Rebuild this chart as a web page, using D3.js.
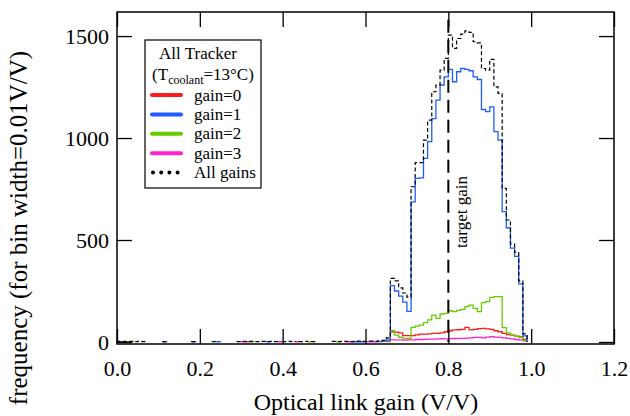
<!DOCTYPE html>
<html>
<head>
<meta charset="utf-8">
<script src="https://cdn.jsdelivr.net/npm/d3@7"></script>
<style>
  body { margin: 0; background: #fff; }
  svg { display: block; font-family: "Liberation Serif", "Times New Roman", serif; }
</style>
</head>
<body>
<svg id="chart" width="630" height="416"></svg>
<script>
// bin starts (bin width 0.01 V/V)
var bins = [0.65, 0.66, 0.67, 0.68, 0.69, 0.70, 0.71, 0.72, 0.73, 0.74, 0.75, 0.76,
    0.77, 0.78, 0.79, 0.80, 0.81, 0.82, 0.83, 0.84, 0.85, 0.86, 0.87, 0.88, 0.89, 0.90,
    0.91, 0.92, 0.93, 0.94, 0.95, 0.96, 0.97, 0.98];
var gain0 = [5, 50, 48, 45, 31, 31, 31, 35, 38, 38, 40, 42, 42, 45, 50, 55, 59, 60, 62, 72,
    59, 62, 65, 67, 64, 62, 55, 50, 42, 36, 34, 28, 26, 13];
var gain1 = [10, 276, 250, 225, 195, 150, 687, 802, 805, 900, 982, 1095, 1186, 1260, 1300, 1337,
    1276, 1325, 1341, 1337, 1330, 1300, 1287, 1140, 1129, 1153, 1031, 990, 639, 560, 460, 420, 285, 30];
var gain2 = [5, 55, 34, 23, 18, 18, 72, 78, 83, 95, 108, 132, 116, 137, 140, 153, 149, 155, 160,
    173, 181, 165, 149, 193, 198, 219, 222, 222, 70, 45, 34, 28, 23, 8];
var gain3 = [2, 10, 10, 10, 9, 10, 10, 12, 12, 13, 14, 14, 15, 16, 15, 16, 17, 18, 18, 19, 20,
    22, 22, 20, 24, 26, 24, 22, 20, 18, 15, 12, 10, 6];
var allGains = [20, 312, 300, 265, 240, 220, 761, 879, 879, 990, 1088, 1227, 1260, 1333, 1391, 1505,
    1440, 1488, 1510, 1525, 1518, 1472, 1467, 1341, 1333, 1386, 1251, 1219, 753, 598, 480, 440, 300, 40];

// sparse low-gain channels
var lowBins = [0.00, 0.01, 0.02, 0.03, 0.04, 0.05, 0.06, 0.11, 0.18, 0.23, 0.29, 0.30, 0.31,
    0.32, 0.33, 0.34, 0.35, 0.36, 0.37, 0.38, 0.40, 0.41, 0.42, 0.44, 0.45, 0.47, 0.52, 0.53,
    0.54, 0.55, 0.56, 0.57, 0.58, 0.59, 0.60, 0.61, 0.62, 0.63, 0.64];
var lowAll = [3, 3, 2, 3, 2, 3, 2, 2, 2, 2, 2, 3, 2, 3, 2, 2, 3, 2, 3, 2, 2, 3, 2, 2, 3, 2,
    3, 2, 3, 3, 2, 3, 4, 3, 3, 4, 3, 5, 8];
var lowGain1Bins = [0.00, 0.01, 0.11, 0.18, 0.24, 0.36, 0.57, 0.58, 0.59, 0.63, 0.64];
var lowGain1 = [2, 2, 1, 1, 1, 1, 1, 1, 1, 2, 4];
var lowGain2Bins = [0.02, 0.03, 0.32, 0.46, 0.53];
var lowGain2 = [1, 1, 1, 1, 1];
var lowGain3Bins = [0.30, 0.31, 0.39, 0.43, 0.55, 0.56, 0.60, 0.61, 0.62];
var lowGain3 = [1, 1, 1, 1, 1, 1, 1, 1, 1];

var xTicks = [0.0, 0.2, 0.4, 0.6, 0.8, 1.0, 1.2];
var yTicks = [0, 500, 1000, 1500];
var targetGain = 0.8;
var binWidth = 0.01;

var legendItems = [
    { label: 'gain=0', color: '#ff1a1a' },
    { label: 'gain=1', color: '#1f5bff' },
    { label: 'gain=2', color: '#66cc00' },
    { label: 'gain=3', color: '#ff22cc' },
    { label: 'All gains', color: '#000', dotted: true }
];

(function() {
    'use strict';

    var plotLeft = 117, plotRight = 614, plotTop = 12, plotBottom = 344;

    var x = d3.scaleLinear().domain([0, 1.2]).range([plotLeft, plotRight]);
    var y = d3.scaleLinear().domain([-10, 1618]).range([plotBottom, plotTop]);

    var svg = d3.select('#chart');

    // turns bin starts + counts into a stepped outline, breaking at gaps
    function stepPoints(starts, vals) {
        var pts = [];
        var prevEnd = null;
        starts.forEach(function(s, i) {
            var e = +(s + binWidth).toFixed(2);
            if (prevEnd === null || Math.abs(s - prevEnd) > 1e-6) {
                if (prevEnd !== null) {
                    pts.push([prevEnd, 0]);
                    pts.push(null);
                }
                pts.push([s, 0]);
            }
            pts.push([s, vals[i]], [e, vals[i]]);
            prevEnd = e;
        });
        pts.push([prevEnd, 0]);
        return pts;
    }

    var line = d3.line()
        .defined(function(d) { return d !== null; })
        .x(function(d) { return x(d[0]); })
        .y(function(d) { return y(d[1]); });

    var series = [
        { starts: lowGain3Bins.concat(bins), vals: lowGain3.concat(gain3), color: '#ff22cc' },
        { starts: bins, vals: gain0, color: '#ff1a1a' },
        { starts: lowGain2Bins.concat(bins), vals: lowGain2.concat(gain2), color: '#66cc00' },
        { starts: lowGain1Bins.concat(bins), vals: lowGain1.concat(gain1), color: '#1f5bff' }
    ];

    series.forEach(function(s) {
        svg.append('path')
            .datum(stepPoints(s.starts, s.vals))
            .attr('d', line)
            .attr('fill', 'none')
            .attr('stroke', s.color)
            .attr('stroke-width', 1.3);
    });

    svg.append('path')
        .datum(stepPoints(lowBins.concat(bins), lowAll.concat(allGains)))
        .attr('d', line)
        .attr('fill', 'none')
        .attr('stroke', '#000')
        .attr('stroke-width', 1.2)
        .attr('stroke-dasharray', '4,2.5');

    // target gain marker
    svg.append('line')
        .attr('x1', x(targetGain)).attr('x2', x(targetGain))
        .attr('y1', y(1580)).attr('y2', y(0))
        .attr('stroke', '#000')
        .attr('stroke-width', 2)
        .attr('stroke-dasharray', '13,7');

    svg.append('text')
        .attr('transform', 'translate(' + (x(targetGain) + 19) + ',' + 212 + ') rotate(-90)')
        .attr('text-anchor', 'middle')
        .attr('font-size', 17)
        .text('target gain');

    // axes, ticks pointing inward
    var tickLen = 15;
    svg.append('g')
        .attr('transform', 'translate(0,' + plotBottom + ')')
        .call(d3.axisBottom(x).tickValues(xTicks).tickSize(-tickLen).tickPadding(16)
            .tickFormat(d3.format('.1f')));
    svg.append('g')
        .attr('transform', 'translate(0,' + plotTop + ')')
        .call(d3.axisTop(x).tickValues(xTicks).tickSize(-tickLen).tickFormat(''));
    svg.append('g')
        .attr('transform', 'translate(' + plotLeft + ',0)')
        .call(d3.axisLeft(y).tickValues(yTicks).tickSize(-tickLen).tickPadding(8)
            .tickFormat(d3.format('d')));
    svg.append('g')
        .attr('transform', 'translate(' + plotRight + ',0)')
        .call(d3.axisRight(y).tickValues(yTicks).tickSize(-tickLen).tickFormat(''));

    svg.selectAll('.domain').remove();
    svg.selectAll('.tick line').attr('stroke', '#000').attr('stroke-width', 1.3);
    svg.selectAll('.tick text')
        .attr('font-family', '"Liberation Serif", serif')
        .attr('font-size', 22)
        .attr('fill', '#000');

    svg.append('rect')
        .attr('x', plotLeft).attr('y', plotTop)
        .attr('width', plotRight - plotLeft).attr('height', plotBottom - plotTop)
        .attr('fill', 'none')
        .attr('stroke', '#000')
        .attr('stroke-width', 1.5);

    // axis titles
    svg.append('text')
        .attr('x', 366)
        .attr('y', 410)
        .attr('text-anchor', 'middle')
        .attr('font-size', 24)
        .text('Optical link gain (V/V)');

    svg.append('text')
        .attr('transform', 'translate(27,228) rotate(-90)')
        .attr('text-anchor', 'middle')
        .attr('font-size', 25)
        .text('frequency (for bin width=0.01V/V)');

    // legend
    var lg = svg.append('g');
    lg.append('rect')
        .attr('x', 145).attr('y', 40)
        .attr('width', 116).attr('height', 148)
        .attr('fill', '#fff')
        .attr('stroke', '#000')
        .attr('stroke-width', 1.2);

    lg.append('text')
        .attr('x', 198).attr('y', 59)
        .attr('text-anchor', 'middle')
        .attr('font-size', 17)
        .text('All Tracker');

    var t2 = lg.append('text')
        .attr('x', 203).attr('y', 80)
        .attr('text-anchor', 'middle')
        .attr('font-size', 17);
    t2.append('tspan').text('(T');
    t2.append('tspan').attr('font-size', 12).attr('dy', 4).text('coolant');
    t2.append('tspan').attr('dy', -4).text('=13°C)');

    legendItems.forEach(function(item, i) {
        var ly = 95 + i * 19.4;
        lg.append('line')
            .attr('x1', item.dotted ? 153 : 152).attr('x2', item.dotted ? 178 : 181)
            .attr('y1', ly).attr('y2', ly)
            .attr('stroke', item.color)
            .attr('stroke-width', 4)
            .attr('stroke-linecap', 'round')
            .attr('stroke-dasharray', item.dotted ? '0,8.2' : null);
        lg.append('text')
            .attr('x', 194).attr('y', ly + 5.5)
            .attr('font-size', 17)
            .text(item.label);
    });
}());
</script>
</body>
</html>
